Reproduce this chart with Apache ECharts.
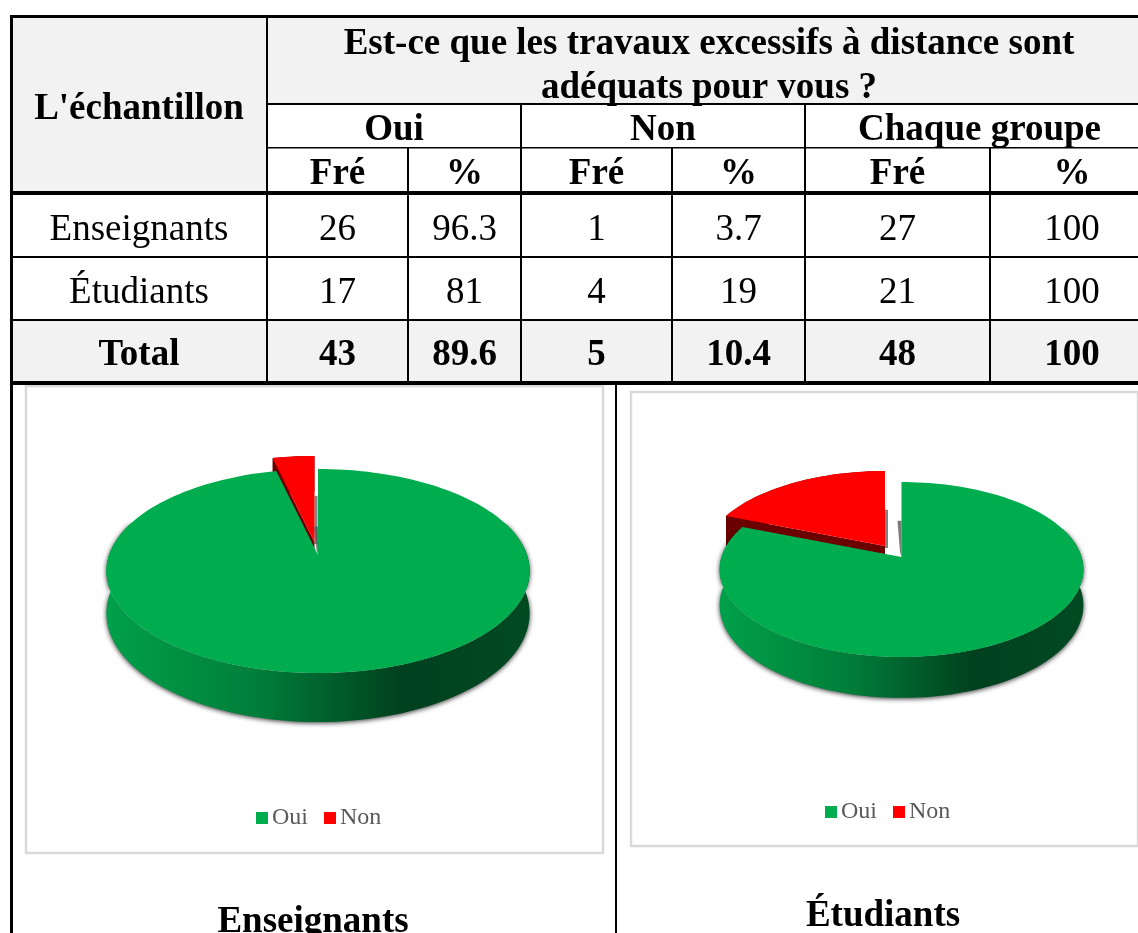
<!DOCTYPE html>
<html>
<head>
<meta charset="utf-8">
<title>Travaux excessifs à distance</title>
<script src="https://cdn.jsdelivr.net/npm/echarts@6/dist/echarts.min.js"></script>
<style>
  html, body { margin: 0; padding: 0; background: #fff; }
  #chart { width: 1138px; height: 933px; }
</style>
</head>
<body>
<div id="chart"></div>
<script>
const categories = ['Oui', 'Non']
const enseignantsPct = [96.3, 3.7]
const etudiantsPct = [81, 19]

const questionLines = ['Est-ce que les travaux excessifs à distance sont', 'adéquats pour vous ?']
const sampleTitle = "L'échantillon"
const groupHeaders = ['Oui', 'Non', 'Chaque groupe']
const subHeaders = ['Fré', '%', 'Fré', '%', 'Fré', '%']
const rowLabels = ['Enseignants', 'Étudiants', 'Total']
const rowEnseignants = ['26', '96.3', '1', '3.7', '27', '100']
const rowEtudiants = ['17', '81', '4', '19', '21', '100']
const rowTotal = ['43', '89.6', '5', '10.4', '48', '100']

const SERIF = '"Liberation Serif", "Times New Roman", serif'
const colX = [267, 408, 521, 672, 805, 990, 1154]
const rowTextY = [230, 293, 355]
const TEXT_SIZE = 37

const els = []

function rect(x, y, w, h, fill) {
  els.push({ type: 'rect', silent: true, z: 1, shape: { x, y, width: w, height: h }, style: { fill } })
}

function txt(text, x, y, size, bold) {
  els.push({
    type: 'text', silent: true, z: 3, x, y,
    style: {
      text, fill: '#000', align: 'center', verticalAlign: 'middle',
      font: (bold ? 'bold ' : '') + size + 'px ' + SERIF
    }
  })
}

// fonds gris
rect(12, 17, 1126, 174, '#f2f2f2')
rect(12, 320, 1126, 61, '#f2f2f2')
rect(268, 104, 870, 87, '#fff')

// lignes du tableau
rect(11, 15, 1127, 3, '#000')
rect(10, 15, 3, 918, '#000')
rect(267, 103, 871, 2, '#000')
rect(267, 147, 871, 1.5, '#000')
rect(11, 191, 1127, 4, '#000')
rect(11, 256, 1127, 2, '#000')
rect(11, 319, 1127, 2, '#000')
rect(11, 381, 1127, 4, '#000')
rect(266, 15, 2, 368, '#000')
;[521, 805].forEach(x => rect(x - 1, 104, 2, 279, '#000'))
;[408, 672, 990].forEach(x => rect(x - 1, 148, 2, 235, '#000'))
rect(615, 384, 2, 549, '#000')

// textes du tableau
txt(questionLines[0], 709, 44, TEXT_SIZE, true)
txt(questionLines[1], 709, 88, TEXT_SIZE, true)
txt(sampleTitle, 139, 109, TEXT_SIZE, true)
groupHeaders.forEach((t, i) => txt(t, (colX[i * 2] + colX[i * 2 + 2]) / 2, 130, TEXT_SIZE, true))
subHeaders.forEach((t, i) => txt(t, (colX[i] + colX[i + 1]) / 2, 174, TEXT_SIZE, true))
;[rowEnseignants, rowEtudiants, rowTotal].forEach((row, r) => {
  const bold = r === 2
  txt(rowLabels[r], 139, rowTextY[r], TEXT_SIZE, bold)
  row.forEach((t, i) => txt(t, (colX[i] + colX[i + 1]) / 2, rowTextY[r], TEXT_SIZE, bold))
})

// cadres des graphiques
function frame(x, y, w, h) {
  els.push({
    type: 'rect', silent: true, z: 0, shape: { x, y, width: w, height: h },
    style: { fill: '#fff', stroke: '#d9d9d9', lineWidth: 2.5 }
  })
}
frame(26, 386, 577, 467)
frame(631, 392, 507, 454)
txt(rowLabels[0], 313, 922, TEXT_SIZE, true)
txt(rowLabels[1], 883, 916, TEXT_SIZE, true)

// géométrie des camemberts (perspective de la face supérieure)
const pieLeft = { cx: 318, cy: 555, a: 209, b: 99.5, k: 0.157, h: 41.3, ox: -3.5, oy: -13, shadeFrom: 0.3, shadeRed: 0.5 }
const pieRight = { cx: 901.5, cy: 557, a: 180, b: 85.7, k: 0.143, h: 35, ox: -16.5, oy: -11, shadeFrom: 0.45, shadeRed: 0.45 }

function project(p, deg, r, drop) {
  const t = deg * Math.PI / 180
  const u = Math.sin(t) * r
  const v = -Math.cos(t) * r
  const w = 1 - p.k * v
  return [p.cx + p.a * u / w, p.cy + (p.b * v + drop) / w]
}

function arc(p, from, to, drop) {
  const pts = []
  const n = Math.max(2, Math.ceil((to - from) / 2))
  for (let i = 0; i <= n; i++) pts.push(project(p, from + (to - from) * i / n, 1, drop))
  return pts
}

function moved(pts, dx, dy) {
  return pts.map(q => [q[0] + dx, q[1] + dy])
}

const wallGradient = () => new echarts.graphic.LinearGradient(0, 0, 1, 0, [
  { offset: 0, color: '#00a04a' },
  { offset: 0.35, color: '#007f3a' },
  { offset: 0.7, color: '#00401e' },
  { offset: 1, color: '#004a22' }
])

function pieItem(p, values, index) {
  return function (params, api) {
    const value = api.value(0)
    const total = values.reduce((s, d) => s + d, 0)
    const before = values.slice(0, index).reduce((s, d) => s + d, 0)
    const from = before / total * 360
    const to = from + value / total * 360
    const top = arc(p, from, to, 0)
    const apex = project(p, 0, 0, 0)
    const floor = arc(p, from, to, p.h)
    const children = []
    if (index === 0) {
      // paroi avant de la part principale, avec son ombre
      const wallFrom = Math.max(from, 70)
      const wallTo = Math.min(to, 290)
      children.push({
        type: 'polygon',
        shape: { points: arc(p, wallFrom, wallTo, 0).concat(arc(p, wallFrom, wallTo, p.h).reverse()) },
        style: { fill: wallGradient(), shadowBlur: 5, shadowColor: 'rgba(0,0,0,0.8)', shadowOffsetY: 1 }
      })
      children.push({ type: 'polygon', shape: { points: top.concat([apex]) }, style: { fill: '#00ad4e' } })
      // ombre grise contre le bord de la fente
      const start = project(p, 0, p.shadeFrom, 0)
      children.push({
        type: 'polygon',
        shape: { points: [[apex[0] - 4, start[1]], [apex[0], start[1]], [apex[0], apex[1]], [apex[0] - 1.5, apex[1] - 5]] },
        style: { fill: 'rgba(90,90,90,0.8)' }
      })
    } else {
      const ax = apex[0] + p.ox
      const ay = apex[1] + p.oy
      const dTop = moved(top, p.ox, p.oy)
      const dFloor = moved(floor, p.ox, p.oy)
      // ombre à droite de la part détachée
      const start = project(p, 0, p.shadeRed, 0)
      children.push({
        type: 'polygon',
        shape: { points: [[ax, start[1] + p.oy], [ax + 3, start[1] + p.oy], [ax + 3, ay + 2], [ax, ay + 2]] },
        style: { fill: 'rgba(90,90,90,0.75)' }
      })
      // paroi radiale et paroi extérieure
      children.push({
        type: 'polygon',
        shape: { points: [dTop[0], [ax, ay], [ax, ay + p.h], dFloor[0]] },
        style: { fill: '#6a0000' }
      })
      children.push({
        type: 'polygon',
        shape: { points: dTop.concat(dFloor.slice().reverse()) },
        style: { fill: '#6a0000' }
      })
      children.push({ type: 'polygon', shape: { points: dTop.concat([[ax, ay]]) }, style: { fill: '#ff0000' } })
    }
    return { type: 'group', children }
  }
}

// la part Non passe derrière la part Oui
function pieSeries(p, values) {
  return [1, 0].map(i => ({
    type: 'custom',
    name: categories[i],
    coordinateSystem: 'none',
    itemStyle: { color: i === 0 ? '#00ad4e' : '#ff0000' },
    data: [[values[i]]],
    renderItem: pieItem(p, values, i),
    silent: true,
    z: 5
  }))
}

function pieLegend(left, top) {
  return {
    left, top, data: categories, icon: 'rect', itemWidth: 12, itemHeight: 12, itemGap: 16,
    selectedMode: false, padding: 0,
    textStyle: { color: '#595959', fontFamily: SERIF, fontSize: 24, padding: [0, 0, 0, -1] }
  }
}

const chart = echarts.init(document.getElementById('chart'), null, { renderer: 'canvas' })
chart.setOption({
  animation: false,
  backgroundColor: '#fff',
  graphic: { elements: els },
  legend: [pieLegend(256, 806), pieLegend(825, 800)],
  series: pieSeries(pieLeft, enseignantsPct).concat(pieSeries(pieRight, etudiantsPct))
})
</script>
</body>
</html>
